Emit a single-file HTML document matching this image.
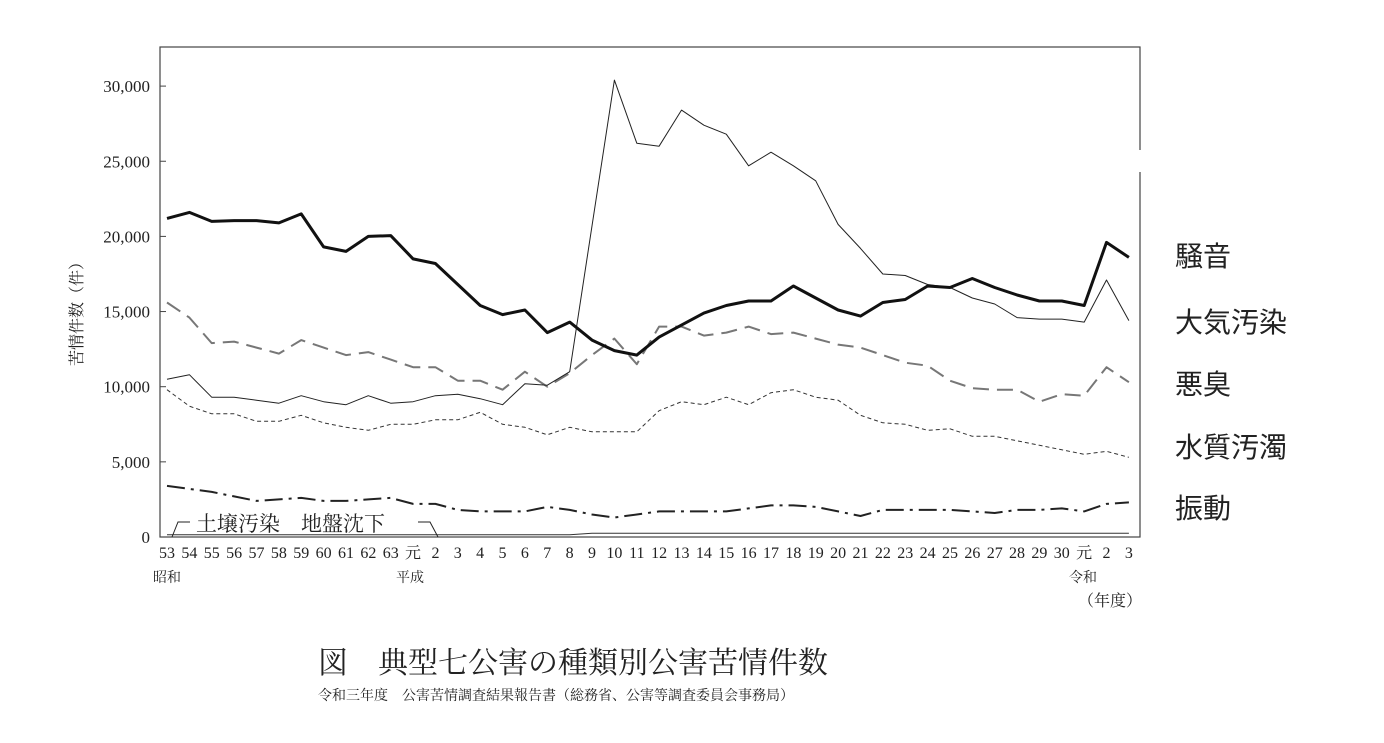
<!DOCTYPE html>
<html><head><meta charset="utf-8"><style>
body{margin:0;background:#fff;width:1384px;height:738px;overflow:hidden}
svg text{font-family:"Liberation Serif","Noto Serif CJK SC",serif;fill:#222}
.s{font-family:"Liberation Sans","Noto Sans CJK JP",sans-serif !important}
</style></head><body>
<svg id="c" width="1384" height="738" xmlns="http://www.w3.org/2000/svg">
<rect x="160" y="47" width="980" height="490" fill="none" stroke="#444" stroke-width="1.2"/>
<line x1="1140" y1="150" x2="1140" y2="172" stroke="#fff" stroke-width="3"/>
<g id="yt" font-size="17" text-anchor="end"></g>
<g id="xt" font-size="16" text-anchor="middle"></g>
<text x="167" y="582" font-size="14" text-anchor="middle">昭和</text>
<text x="410" y="582" font-size="14" text-anchor="middle">平成</text>
<text x="1083" y="582" font-size="14" text-anchor="middle">令和</text>
<text x="1110" y="606" font-size="16" text-anchor="middle">（年度）</text>
<text transform="translate(82,310) rotate(-90)" font-size="16" text-anchor="middle">苦情件数（件）</text>
<g id="lines"></g>
<path d="M172,537 L178,522 L190,522 M418,522 L430,522 L438,537" fill="none" stroke="#222" stroke-width="1"/>
<text x="196" y="531" font-size="21">土壌汚染　地盤沈下</text>
<g class="s" font-size="28" fill="#111">
<text class="s" x="1175" y="266">騒音</text>
<text class="s" x="1175" y="332">大気汚染</text>
<text class="s" x="1175" y="394">悪臭</text>
<text class="s" x="1175" y="457">水質汚濁</text>
<text class="s" x="1175" y="518">振動</text>
</g>
<text x="318" y="673" font-size="30">図　典型七公害の種類別公害苦情件数</text>
<text x="318" y="700" font-size="14">令和三年度　公害苦情調査結果報告書（総務省、公害等調査委員会事務局）</text>
</svg>
<script>
var NS="http://www.w3.org/2000/svg";
function Y(v){return 537-v*0.01503}
function X(i){return 167+i*22.37}
var yt=document.getElementById('yt');
var labs=["0","5,000","10,000","15,000","20,000","25,000","30,000"];
for(var k=0;k<7;k++){var y=Y(k*5000);
 var t=document.createElementNS(NS,'text');t.setAttribute('x',150);t.setAttribute('y',y+6);t.textContent=labs[k];yt.appendChild(t);
 var l=document.createElementNS(NS,'line');l.setAttribute('x1',160);l.setAttribute('x2',166);l.setAttribute('y1',y);l.setAttribute('y2',y);l.setAttribute('stroke','#444');yt.appendChild(l);}
var xl=["53","54","55","56","57","58","59","60","61","62","63","元"];
for(var i=2;i<=30;i++)xl.push(i==2?"2":""+i);
xl=xl.concat(["元","2","3"]);
var xt=document.getElementById('xt');
for(var i=0;i<xl.length;i++){var t=document.createElementNS(NS,'text');t.setAttribute('x',X(i));t.setAttribute('y',558);t.textContent=xl[i];xt.appendChild(t);}
var S=[
[[15600,14600,12900,13000,12600,12200,13100,12600,12100,12300,11800,11300,11300,10400,10400,9800,11000,10000,10900,12100,13200,11500,14000,14000,13400,13600,14000,13500,13600,13200,12800,12600,12100,11600,11400,10400,9900,9800,9800,9000,9500,9400,11300,10300],'#777',2,'16,8'],
[[9800,8700,8200,8200,7700,7700,8100,7600,7300,7100,7500,7500,7800,7800,8300,7500,7300,6800,7300,7000,7000,7000,8400,9000,8800,9300,8800,9600,9800,9300,9100,8100,7600,7500,7100,7200,6700,6700,6400,6100,5800,5500,5700,5300],'#333',1,'4,3'],
[[3400,3200,3000,2700,2400,2500,2600,2400,2400,2500,2600,2200,2200,1800,1700,1700,1700,2000,1800,1500,1300,1500,1700,1700,1700,1700,1900,2100,2100,2000,1700,1400,1800,1800,1800,1800,1700,1600,1800,1800,1900,1700,2200,2300],'#222',2,'18,6,3,6'],
[[10500,10800,9300,9300,9100,8900,9400,9000,8800,9400,8900,9000,9400,9500,9200,8800,10200,10100,11000,20700,30400,26200,26000,28400,27400,26800,24700,25600,24700,23700,20800,19200,17500,17400,16800,16600,15900,15500,14600,14500,14500,14300,17100,14400],'#222',1,''],
[[21200,21600,21000,21050,21050,20900,21500,19300,19000,20000,20050,18500,18200,16800,15400,14800,15100,13600,14300,13100,12400,12100,13300,14100,14900,15400,15700,15700,16700,15900,15100,14700,15600,15800,16700,16600,17200,16600,16100,15700,15700,15400,19600,18600],'#111',3,'']
];
var g=document.getElementById('lines');
var z=[];for(var i=0;i<44;i++)z.push(i<19?150:250);
S.unshift([z,'#333',1,'']);
S.forEach(function(s){var d='';s[0].forEach(function(v,i){d+=(i?'L':'M')+X(i).toFixed(1)+','+Y(v).toFixed(1)});
 var p=document.createElementNS(NS,'path');p.setAttribute('d',d);p.setAttribute('fill','none');p.setAttribute('stroke',s[1]);p.setAttribute('stroke-width',s[2]);p.setAttribute('stroke-linejoin','round');if(s[3])p.setAttribute('stroke-dasharray',s[3]);g.appendChild(p);});
</script>
</body></html>
